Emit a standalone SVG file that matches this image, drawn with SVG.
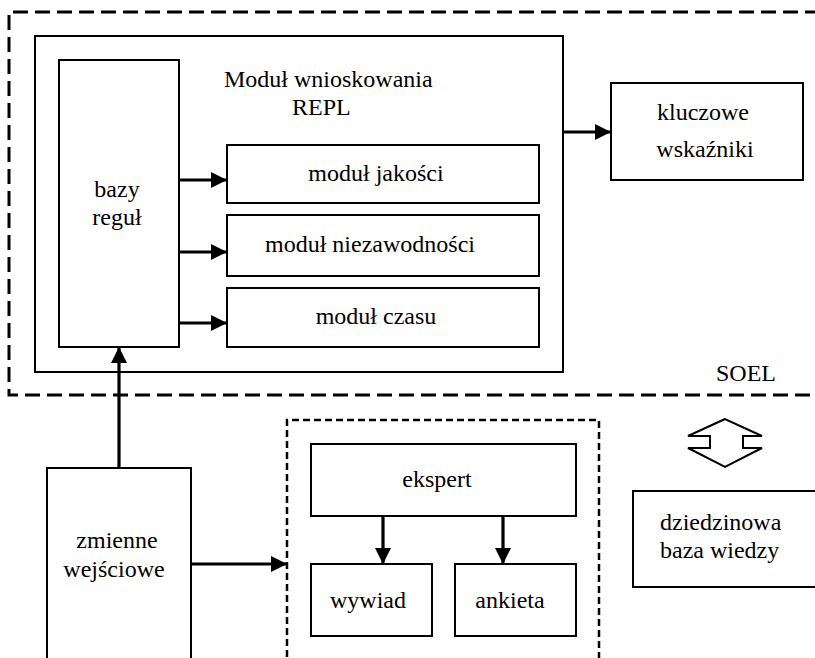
<svg xmlns="http://www.w3.org/2000/svg" width="815" height="658" viewBox="0 0 815 658" font-family="Liberation Serif, Times New Roman, DejaVu Serif, serif" font-size="24">
  <defs>
    <marker id="arrow" markerUnits="userSpaceOnUse" markerWidth="16" markerHeight="16" refX="16" refY="8" orient="auto">
      <path d="M0,0 L16,8 L0,16 Z" fill="#000"/>
    </marker>
    <style>
      .box { fill: #fff; stroke: #000; stroke-width: 2; }
      .frame { fill: none; stroke: #000; stroke-width: 3; stroke-dasharray: 15 7; }
      .subframe { fill: none; stroke: #000; stroke-width: 2.5; stroke-dasharray: 7 4; }
      .conn { fill: none; stroke: #000; stroke-width: 3.2; marker-end: url(#arrow); }
      text { fill: #000; font-family: "Liberation Serif", "Times New Roman", "DejaVu Serif", serif; }
    </style>
  </defs>

  <!-- SOEL system boundary -->
  <g id="soel">
    <path class="frame" d="M820,12 H9 V395 H820"/>
    <text x="716" y="381">SOEL</text>
  </g>

  <!-- inference module container -->
  <g id="modul-wnioskowania">
    <rect class="box" x="35" y="36" width="528" height="336"/>
    <text x="224" y="87">Moduł wnioskowania</text>
    <text x="292" y="115">REPL</text>
  </g>

  <g id="bazy-regul">
    <rect class="box" x="59" y="60" width="120" height="287"/>
    <text x="117" y="197" text-anchor="middle">bazy</text>
    <text x="117" y="225" text-anchor="middle">reguł</text>
  </g>

  <g id="modul-jakosci">
    <rect class="box" x="227" y="145" width="312" height="58"/>
    <text x="376" y="181" text-anchor="middle">moduł jakości</text>
  </g>

  <g id="modul-niezawodnosci">
    <rect class="box" x="227" y="215" width="312" height="61"/>
    <text x="370" y="252" text-anchor="middle">moduł niezawodności</text>
  </g>

  <g id="modul-czasu">
    <rect class="box" x="227" y="288" width="312" height="59"/>
    <text x="376" y="324" text-anchor="middle">moduł czasu</text>
  </g>

  <g id="kluczowe-wskazniki">
    <rect class="box" x="611" y="83" width="192" height="97"/>
    <text x="703" y="120" text-anchor="middle">kluczowe</text>
    <text x="705" y="157" text-anchor="middle">wskaźniki</text>
  </g>

  <g id="zmienne-wejsciowe">
    <rect class="box" x="47" y="468" width="144" height="200"/>
    <text x="117" y="548" text-anchor="middle">zmienne</text>
    <text x="114" y="577" text-anchor="middle">wejściowe</text>
  </g>

  <!-- knowledge acquisition group -->
  <g id="pozyskiwanie">
    <path class="subframe" d="M287,668 V420 H599 V668"/>
  </g>

  <g id="ekspert">
    <rect class="box" x="311" y="444" width="265" height="72"/>
    <text x="437" y="487" text-anchor="middle">ekspert</text>
  </g>

  <g id="wywiad">
    <rect class="box" x="311" y="564" width="121" height="72"/>
    <text x="330" y="608">wywiad</text>
  </g>

  <g id="ankieta">
    <rect class="box" x="455" y="564" width="121" height="72"/>
    <text x="510" y="608" text-anchor="middle">ankieta</text>
  </g>

  <g id="dziedzinowa-baza-wiedzy">
    <path class="box" d="M820,491 H633 V587 H820"/>
    <text x="660" y="530">dziedzinowa</text>
    <text x="660" y="558">baza wiedzy</text>
  </g>

  <!-- two-way exchange symbol -->
  <g id="wymiana">
    <polygon class="box" points="725,419 688,436 710,436 710,448 688,448 725,467 762,448 743,448 743,436 762,436"/>
  </g>

  <g id="connectors">
    <line class="conn" x1="179" y1="180" x2="227" y2="180"/>
    <line class="conn" x1="179" y1="252" x2="227" y2="252"/>
    <line class="conn" x1="179" y1="323" x2="227" y2="323"/>
    <line class="conn" x1="563" y1="132" x2="611" y2="132"/>
    <line class="conn" x1="119" y1="468" x2="119" y2="347"/>
    <line class="conn" x1="191" y1="564" x2="287" y2="564"/>
    <line class="conn" x1="383" y1="516" x2="383" y2="564"/>
    <line class="conn" x1="503" y1="516" x2="503" y2="564"/>
  </g>
</svg>
